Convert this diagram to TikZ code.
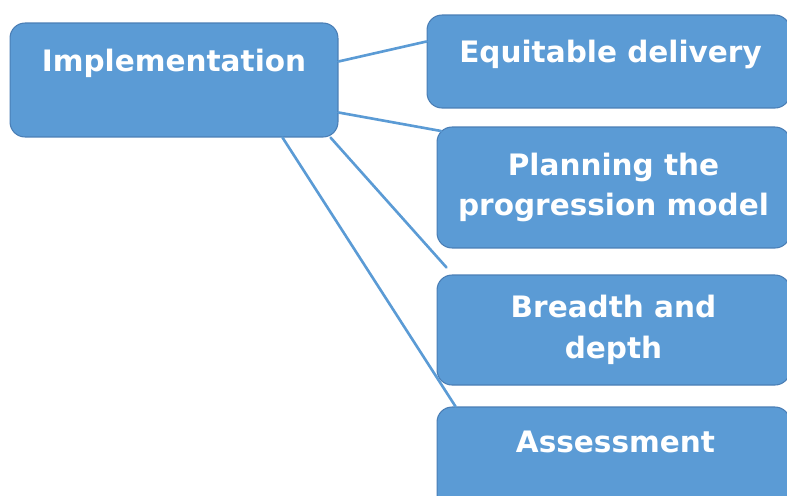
\documentclass[tikz,border=0pt]{standalone}
\usepackage{fontspec}
\setmainfont{DejaVu Sans}
\usepackage{tikz}
\usetikzlibrary{calc}
\definecolor{boxblue}{HTML}{5B9BD5}
\definecolor{boxedge}{HTML}{4A7EB5}

\begin{document}
\begin{tikzpicture}[x=0.02cm,y=-0.02cm,line cap=round,line join=round,
  box/.style={draw=boxedge,line width=0.6pt,fill=boxblue,rounded corners=0.3cm},
  boxtext/.style={text=white,font=\fontsize{16.8}{23.2}\selectfont\bfseries,align=center},
  link/.style={draw=boxblue,line width=1.5pt}]
\useasboundingbox (0,0) rectangle (787,495);
\clip (0,0) rectangle (787,495);
% boxes
\node[box,minimum width=6.56cm,minimum height=2.28cm] (impl) at (174,80) {};
\node[boxtext,anchor=base] (implt) at ($(impl.north)+(0,49)$) {Implementation};
\node[box,minimum width=7.26cm,minimum height=1.86cm] (equit) at (608.5,61.5) {};
\node[boxtext,anchor=base] (equitt) at ($(equit.north)+(2,48)$) {Equitable delivery};
\node[box,boxtext,minimum width=7.06cm,minimum height=2.42cm] (plan) at (613.5,187.5) {Planning the\\progression model};
\node[box,boxtext,minimum width=7.06cm,minimum height=2.2cm] (bread) at (613.5,330) {Breadth and\\depth};
\node[box,minimum width=7.06cm,minimum height=2.16cm] (assess) at (613.5,461) {};
\node[boxtext,anchor=base] (assesst) at ($(assess.north)+(2,46)$) {Assessment};
% links
\draw[link] ($(impl.north east)+(0,39)$) -- ($(equit.north west)+(0,27)$);
\draw[link] ($(impl.north east)+(0,90)$) -- ($(plan.north west)+(4.5,4.5)$);
\draw[link] ($(impl.south east)+(-8,0)$) -- ($(bread.north west)+(10,-7)$);
\draw[link] ($(impl.south east)+(-56,0)$) -- ($(assess.north west)+(19,0)$);
\end{tikzpicture}
\end{document}
